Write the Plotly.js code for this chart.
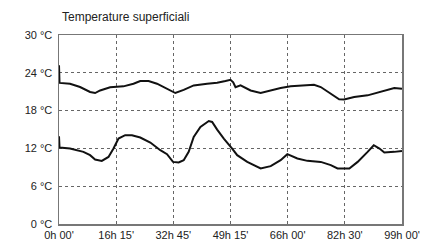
<!DOCTYPE html>
<html><head><meta charset="utf-8">
<script src="https://cdn.plot.ly/plotly-3.0.1.min.js"></script>
<style>body{margin:0;background:#fff}#c{width:435px;height:241px}</style>
</head><body><div id="c"></div><script>
const hoursUpper = [0,0.15,3.18,6.08,8.97,10.42,11.87,14.76,18.6,21.5,23.45,25.85,28.28,31.18,33.58,35.99,38.88,42.75,45.65,48.05,49.5,50.28,50.95,52.4,55.3,58.2,61.1,63.97,66.87,69.76,73.6,75.55,78.45,80.86,82.3,85.2,89.07,92.9,96.77,99];
const tempUpper = [25.2,22.4,22.27,21.74,20.95,20.79,21.2,21.7,21.85,22.27,22.7,22.7,22.27,21.48,20.79,21.3,22.0,22.27,22.43,22.7,22.9,22.5,21.7,22.0,21.2,20.79,21.2,21.6,21.85,22.0,22.1,21.74,20.69,19.79,19.76,20.16,20.42,21.06,21.6,21.48];
const hoursLower = [0,0.15,3.18,7.05,8.97,10.42,12.35,14.28,15.73,17.17,19.1,21.05,23.45,26.36,29.24,31.18,32.9,34.55,35.99,37.43,38.88,40.82,43.23,44.2,45.65,47.57,49.98,51.43,54.33,58.2,61.1,63.97,65.9,68.8,71.7,75.55,78.45,80.4,83.8,86.2,89.07,90.85,92.5,93.9,96.77,99];
const tempLower = [13.93,12.14,11.98,11.45,10.92,10.24,10.02,10.65,11.98,13.56,14.09,14.09,13.72,12.93,11.71,11.08,9.86,9.77,10.13,11.45,13.82,15.4,16.35,16.2,14.99,13.56,11.98,10.92,9.86,8.81,9.18,10.13,11.08,10.4,10.02,9.86,9.34,8.81,8.81,9.86,11.45,12.5,11.98,11.35,11.45,11.6];
const xTickVals = [0,16.5,33,49.5,66,82.5,99];
const xTickText = ["0h 00'","16h 15'","32h 45'","49h 15'","66h 00'","82h 30'","99h 00'"];
const yTickVals = [0,6,12,18,24,30];
const yTickText = ["0 °C","6 °C","12 °C","18 °C","24 °C","30 °C"];
const titleText = "Temperature superficiali";

const lineStyle = {color:'#111', width:2};
const data = [
  {x:hoursUpper, y:tempUpper, type:'scatter', mode:'lines', line:lineStyle, hoverinfo:'skip'},
  {x:hoursLower, y:tempLower, type:'scatter', mode:'lines', line:lineStyle, hoverinfo:'skip'}
];
const layout = {
  width:435, height:241,
  margin:{l:59, r:33, t:35, b:17},
  paper_bgcolor:'#fff', plot_bgcolor:'#fff',
  showlegend:false,
  font:{family:'Liberation Sans, Arial, sans-serif', size:11, color:'#222'},
  title:{text:titleText, x:62/435, xanchor:'left', y:1-17/241, yanchor:'middle', font:{size:12, color:'#222'}},
  xaxis:{range:[0,99], tickvals:xTickVals, ticktext:xTickText, showgrid:true, gridcolor:'#666', griddash:'dot', gridwidth:1,
         showline:true, mirror:true, linecolor:'#777', linewidth:1.5, ticks:'', zeroline:false, fixedrange:true, tickfont:{size:11}},
  yaxis:{range:[0,30], tickvals:yTickVals, ticktext:yTickText, showgrid:true, gridcolor:'#666', griddash:'dot', gridwidth:1,
         showline:true, mirror:true, linecolor:'#777', linewidth:1.5, ticks:'', zeroline:false, fixedrange:true, tickfont:{size:11}, ticklabelstandoff:3}
};
Plotly.newPlot('c', data, layout, {staticPlot:true, displayModeBar:false});
</script></body></html>
